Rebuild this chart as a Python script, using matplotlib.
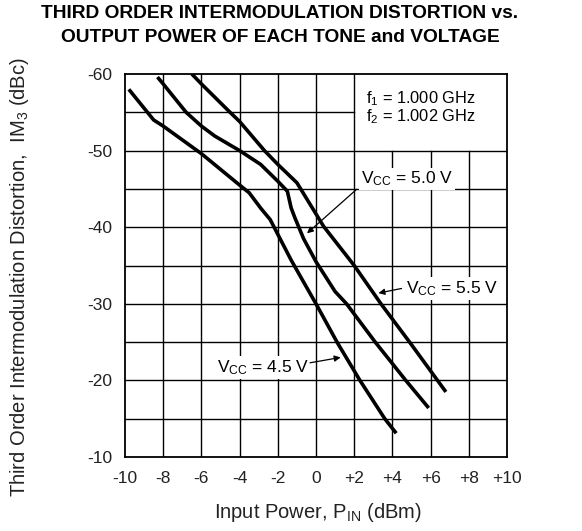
import numpy as np
import matplotlib
matplotlib.use("Agg")
import matplotlib.pyplot as plt

plt.rcParams['font.family'] = ['Liberation Sans', 'DejaVu Sans']
plt.rcParams['mathtext.fontset'] = 'custom'
plt.rcParams['mathtext.rm'] = 'Liberation Sans'
plt.rcParams['mathtext.it'] = 'Liberation Sans:italic'

# IM3 curves (x: input power dBm, y: IM3 dBc)
pin_45 = [-9.8, -8.5, -8.0, -6.0, -4.0, -3.5, -2.9, -2.4, -1.3, -0.8, 0.0, 1.1, 2.3, 3.6, 4.2]
im3_45 = [-58.0, -54.0, -53.2, -49.6, -45.5, -44.5, -42.5, -41.0, -35.7, -33.5, -30.0, -25.0, -20.0, -15.0, -13.1]

pin_50 = [-8.3, -8.0, -6.8, -6.0, -5.3, -4.0, -2.9, -2.0, -1.5, -1.3, -1.1, -0.65, 0.0, 1.0, 1.6, 3.1, 4.7, 5.9]
im3_50 = [-59.6, -58.7, -55.0, -53.2, -51.9, -50.0, -48.2, -46.0, -44.7, -42.5, -41.2, -38.5, -35.5, -31.6, -30.0, -25.0, -20.0, -16.4]

pin_55 = [-6.5, -6.0, -4.5, -4.0, -2.7, -2.0, -1.0, 0.4, 2.0, 3.4, 4.9, 6.8]
im3_55 = [-60.0, -58.7, -55.0, -53.8, -50.0, -48.2, -45.8, -40.1, -35.0, -30.0, -25.0, -18.5]

x_ticks = [-10, -8, -6, -4, -2, 0, 2, 4, 6, 8, 10]
x_labels = ['-10', '-8', '-6', '-4', '-2', '0', '+2', '+4', '+6', '+8', '+10']
y_ticks = [-60, -50, -40, -30, -20, -10]
y_labels = ['-60', '-50', '-40', '-30', '-20', '-10']
y_grid = [-55, -50, -45, -40, -35, -30, -25, -20, -15]


def main():
    fig = plt.figure(figsize=(5.82, 5.31), dpi=100)
    ax = fig.add_axes([125 / 582, 1 - 457 / 531, 382 / 582, 383 / 531])
    ax.set_xlim(-10, 10)
    ax.set_ylim(-10, -60)

    # grid drawn by hand, leaving the box for the frequency note empty
    gkw = dict(color='black', lw=1.0, zorder=1)
    for xv in x_ticks[1:-1]:
        top = -50 if xv > 2 else -60
        ax.plot([xv, xv], [-10, top], **gkw)
    for yv in y_grid:
        right = 2 if yv == -55 else 10
        ax.plot([-10, right], [yv, yv], **gkw)

    lkw = dict(color='black', lw=2.6, solid_capstyle='butt', zorder=3)
    ax.plot(pin_45, im3_45, **lkw)
    ax.plot(pin_50, im3_50, **lkw)
    ax.plot(pin_55, im3_55, **lkw)

    ax.set_xticks(x_ticks)
    ax.set_xticklabels(x_labels)
    ax.set_yticks(y_ticks)
    ax.set_yticklabels(y_labels)
    ax.tick_params(axis='both', length=0, labelsize=12.5, labelcolor='#222222')
    ax.tick_params(axis='x', pad=10)
    ax.tick_params(axis='y', pad=9)
    for sp in ax.spines.values():
        sp.set_linewidth(1.3)

    # frequency note
    ax.text(2.6, -56.8, r'f$_1$ = 1.000 GHz', fontsize=11.8, va='center', ha='left', zorder=4)
    ax.text(2.6, -54.4, r'f$_2$ = 1.002 GHz', fontsize=11.8, va='center', ha='left', zorder=4)

    # curve labels with leader arrows
    bb = dict(facecolor='white', edgecolor='none', pad=1.5)
    akw = dict(arrowstyle='-|>', color='black', lw=0.9, mutation_scale=9, shrinkA=0, shrinkB=0)
    ax.text(2.36, -46.3, r'V$_{\mathrm{CC}}$ = 5.0 V', fontsize=12.5, va='center', ha='left',
            bbox=bb, zorder=4)
    ax.annotate('', xy=(-0.47, -39.2), xytext=(2.13, -44.95), arrowprops=akw, zorder=5)

    ax.text(4.71, -32.0, r'V$_{\mathrm{CC}}$ = 5.5 V', fontsize=12.5, va='center', ha='left',
            bbox=bb, zorder=4)
    ax.annotate('', xy=(3.27, -31.4), xytext=(4.48, -32.0), arrowprops=akw, zorder=5)

    ax.text(-5.2, -21.7, r'V$_{\mathrm{CC}}$ = 4.5 V', fontsize=12.5, va='center', ha='left',
            bbox=bb, zorder=4)
    ax.annotate('', xy=(1.29, -23.0), xytext=(-0.31, -22.3), arrowprops=akw, zorder=5)

    fig.text(280 / 582, 1 - 14 / 531, 'THIRD ORDER INTERMODULATION DISTORTION vs.',
             fontsize=13.8, fontweight='bold', ha='center', va='center')
    fig.text(280 / 582, 1 - 38 / 531, 'OUTPUT POWER OF EACH TONE and VOLTAGE',
             fontsize=13.8, fontweight='bold', ha='center', va='center')
    fig.text(318 / 582, 1 - 512 / 531, r'Input Power, P$_{\mathrm{IN}}$ (dBm)',
             fontsize=14.5, ha='center', va='center', color='#222222')
    fig.text(19.5 / 582, 1 - 277 / 531, r'Third Order Intermodulation Distortion,  IM$_3$ (dBc)',
             fontsize=14.5, ha='center', va='center', rotation=90, color='#222222')

    fig.savefig('out.png', dpi=100)


if __name__ == "__main__":
    main()
